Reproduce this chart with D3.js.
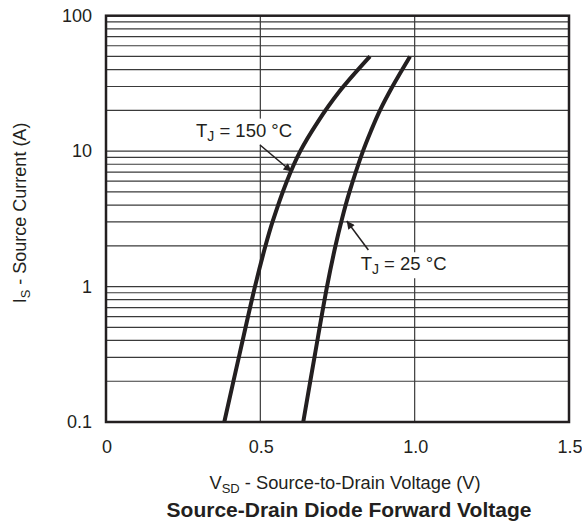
<!DOCTYPE html>
<html><head><meta charset="utf-8">
<script src="https://cdn.jsdelivr.net/npm/d3@7"></script>
<style>body{margin:0;background:#fff}svg text{font-family:"Liberation Sans",Arial,Helvetica,sans-serif;fill:#231f20}</style>
</head><body><svg id="c" width="582" height="529"></svg>
<script>
// Data
const currents150 = [0.1, 0.316, 1, 2, 3, 5.9, 10, 16.4, 27.3, 50];
const vsd150 = [0.3832, 0.4325, 0.4827, 0.5167, 0.5394, 0.5847, 0.6294, 0.6858, 0.7548, 0.8552];
const currents25 = [0.1, 0.316, 1, 2, 3.16, 5, 10, 14.1, 20, 30, 50];
const vsd25  = [0.639, 0.677, 0.716, 0.7435, 0.7645, 0.7888, 0.8325, 0.8584, 0.8876, 0.9281, 0.985];
const xTicks = [0, 0.5, 1.0, 1.5];
const xTickLabels = ["0", "0.5", "1.0", "1.5"];
const yTicks = [0.1, 1, 10, 100];
const yTickLabels = ["0.1", "1", "10", "100"];
const labels = [
  {text: "150 °C", lx: 0.2915, ly: 12.8, ax0: 0.499, ay0: 11.1, ax1: 0.601, ay1: 7.07},
  {text: "25 °C",  lx: 0.825, ly: 1.32, ax0: 0.850, ay0: 1.86, ax1: 0.780, ay1: 3.05}
];

const svg = d3.select("#c");
const L = 106, R = 569, T = 15.7, B = 422;
const x = d3.scaleLinear().domain([0, 1.5]).range([L, R]);
const y = d3.scaleLog().domain([0.1, 100]).range([B, T]);
const ink = "#231f20";

// minor horizontal gridlines
const minor = [];
[0.1, 1, 10].forEach(d => { for (let k = 1; k <= 9; k++) minor.push(d * k); });
minor.push(100);
svg.append("g").selectAll("line").data(minor).join("line")
  .attr("x1", L).attr("x2", R).attr("y1", d => y(d)).attr("y2", d => y(d))
  .attr("stroke", "#3a3a3a").attr("stroke-width", 1.2);
// vertical gridlines
svg.append("g").selectAll("line").data([0.5, 1.0]).join("line")
  .attr("x1", d => x(d)).attr("x2", d => x(d)).attr("y1", T).attr("y2", B)
  .attr("stroke", "#3a3a3a").attr("stroke-width", 1.2);

// labels with white backgrounds
const lblG = svg.append("g");
labels.forEach(l => {
  const g = lblG.append("g");
  const t = g.append("text").attr("x", x(l.lx)).attr("y", y(l.ly)).attr("font-size", 18.5);
  t.append("tspan").text("T");
  t.append("tspan").attr("dy", 4).attr("font-size", 14).text("J");
  t.append("tspan").attr("dy", -4).text(" = " + l.text);
  const bb = t.node().getBBox();
  g.insert("rect", "text").attr("x", bb.x - 3).attr("y", bb.y - 1).attr("width", bb.width + 6).attr("height", bb.height + 2).attr("fill", "#fff");
});

// curves
const line = d3.line().x(d => x(d[0])).y(d => y(d[1])).curve(d3.curveCatmullRom.alpha(0.5));
[[vsd150, currents150], [vsd25, currents25]].forEach(([v, c]) => {
  svg.append("path").datum(v.map((d, i) => [d, c[i]]))
    .attr("d", line).attr("fill", "none").attr("stroke", ink).attr("stroke-width", 4).attr("stroke-linecap", "butt");
});

// arrows
const defs = svg.append("defs");
defs.append("marker").attr("id", "ah").attr("viewBox", "0 0 10 10").attr("refX", 10).attr("refY", 5)
  .attr("markerWidth", 12).attr("markerHeight", 8).attr("markerUnits", "userSpaceOnUse").attr("orient", "auto")
  .append("path").attr("d", "M0,0 L10,5 L0,10 Z").attr("fill", ink);
svg.append("g").selectAll("line").data(labels).join("line")
  .attr("x1", d => x(d.ax0)).attr("y1", d => y(d.ay0)).attr("x2", d => x(d.ax1)).attr("y2", d => y(d.ay1))
  .attr("stroke", ink).attr("stroke-width", 1.5).attr("marker-end", "url(#ah)");

// frame
svg.append("rect").attr("x", L).attr("y", T).attr("width", R - L).attr("height", B - T)
  .attr("fill", "none").attr("stroke", ink).attr("stroke-width", 2.5);

// tick labels
svg.append("g").selectAll("text").data(yTicks).join("text")
  .attr("x", L - 14).attr("y", d => y(d)).attr("dy", "0.35em").attr("text-anchor", "end")
  .attr("font-size", 18).text((d, i) => yTickLabels[i]);
svg.append("g").selectAll("text").data(xTicks).join("text")
  .attr("x", d => x(d) + 1).attr("y", 453).attr("text-anchor", "middle")
  .attr("font-size", 18).text((d, i) => xTickLabels[i]);

// axis titles
const xt = svg.append("text").attr("x", 345).attr("y", 489).attr("text-anchor", "middle").attr("font-size", 18.3);
xt.append("tspan").text("V");
xt.append("tspan").attr("dy", 4).attr("font-size", 13).text("SD");
xt.append("tspan").attr("dy", -4).text(" - Source-to-Drain Voltage (V)");
const yt = svg.append("text").attr("transform", "translate(26,213) rotate(-90)").attr("text-anchor", "middle").attr("font-size", 18);
yt.append("tspan").text("I");
yt.append("tspan").attr("dy", 4).attr("font-size", 13).text("S");
yt.append("tspan").attr("dy", -4).text(" - Source Current (A)");

svg.append("text").attr("x", 349).attr("y", 517).attr("text-anchor", "middle")
  .attr("font-size", 21).attr("font-weight", "bold").text("Source-Drain Diode Forward Voltage");
</script></body></html>
